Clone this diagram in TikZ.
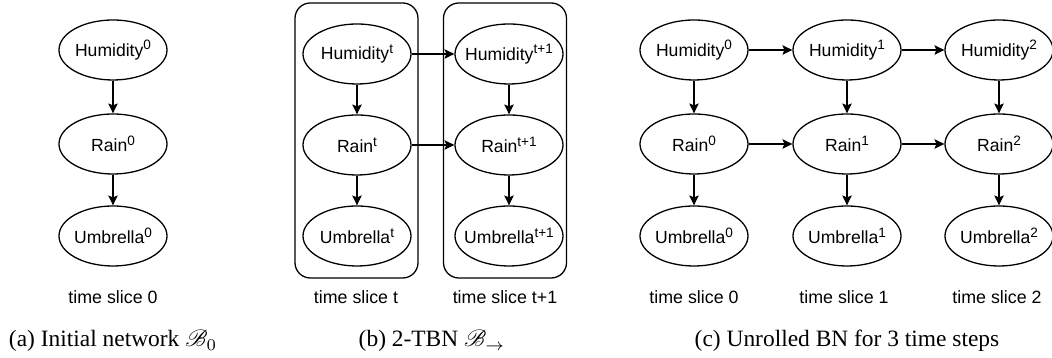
\documentclass[tikz,border=0pt]{standalone}
\usepackage{fontspec}
\setmainfont{Liberation Serif}
\setsansfont{Liberation Sans}
\usepackage{mathrsfs}
\usetikzlibrary{arrows.meta}
\usetikzlibrary{shapes.geometric}

% Superscript for the time index, a little larger than \textsuperscript
\newcommand{\tidx}[1]{\raisebox{2.7pt}{\fontsize{5.8}{6}\selectfont #1}}

\begin{document}
\begin{tikzpicture}[
        x=0.015cm, y=-0.015cm,
        line width=0.55pt,
        % Style for the variable nodes (fixed size ellipses)
        varnode/.style={ellipse, draw, inner xsep=-3pt, inner ysep=0pt, minimum width=1.62cm, minimum height=0.9cm, font=\sffamily\fontsize{7.5}{9}\selectfont},
        % Style for the frames round one time slice
        slicebox/.style={rectangle, rounded corners=2.3mm, draw, minimum width=1.845cm, minimum height=4.125cm},
        % Style for the texts under the columns
        slicelabel/.style={font=\sffamily\fontsize{7.6}{9}\selectfont},
        caption/.style={font=\fontsize{10}{12}\selectfont},
        link/.style={-{Stealth[length=4.2pt, width=4pt, inset=0.8pt]}}
    ]

    \useasboundingbox (0,0) rectangle (1052,358);

    % --- 1. (a) INITIAL NETWORK ---
    \node[varnode] (Ha) at (113, 50) {Humidity\tidx{0}};
    \node[varnode] (Ra) at (113, 144) {Rain\tidx{0}};
    \node[varnode] (Ua) at (113, 236) {Umbrella\tidx{0}};

    \node[slicelabel] (La) at (113, 297) {time slice 0};
    \node[caption] (Ca) at (113, 341) {(a) Initial network $\mathscr{B}_0$};

    % --- 2. (b) 2-TBN ---
    % Frames first, so that the ellipses lie on top
    \node[slicebox] (Sbt) at (356.5, 140.5) {};
    \node[slicebox] (Sbt1) at (505, 140.5) {};

    \node[varnode] (Hbt) at (357, 54) {Humidity\tidx{t}};
    \node[varnode] (Rbt) at (357, 145) {Rain\tidx{t}};
    \node[varnode] (Ubt) at (357, 236) {Umbrella\tidx{t}};

    \node[varnode] (Hbt1) at (509, 54) {Humidity\tidx{t+1}};
    \node[varnode] (Rbt1) at (509, 145) {Rain\tidx{t+1}};
    \node[varnode] (Ubt1) at (509, 236) {Umbrella\tidx{t+1}};

    \node[slicelabel] (Lbt) at (356, 297) {time slice t};
    \node[slicelabel] (Lbt1) at (505, 297) {time slice t+1};
    \node[caption] (Cb) at (432, 341) {(b) 2-TBN $\mathscr{B}_{\rightarrow}$};

    % --- 3. (c) UNROLLED BN ---
    \node[varnode] (Hc0) at (694, 50) {Humidity\tidx{0}};
    \node[varnode] (Rc0) at (694, 144) {Rain\tidx{0}};
    \node[varnode] (Uc0) at (694, 236) {Umbrella\tidx{0}};

    \node[varnode] (Hc1) at (847, 50) {Humidity\tidx{1}};
    \node[varnode] (Rc1) at (847, 144) {Rain\tidx{1}};
    \node[varnode] (Uc1) at (847, 236) {Umbrella\tidx{1}};

    \node[varnode] (Hc2) at (999, 50) {Humidity\tidx{2}};
    \node[varnode] (Rc2) at (999, 144) {Rain\tidx{2}};
    \node[varnode] (Uc2) at (999, 236) {Umbrella\tidx{2}};

    \node[slicelabel] (Lc0) at (694, 297) {time slice 0};
    \node[slicelabel] (Lc1) at (844, 297) {time slice 1};
    \node[slicelabel] (Lc2) at (997, 297) {time slice 2};
    \node[caption] (Cc) at (847, 341) {(c) Unrolled BN for 3 time steps};

    % --- 4. CONNECTIONS ---
    % Inside one slice
    \draw[link] (Ha) -- (Ra);
    \draw[link] (Ra) -- (Ua);
    \draw[link] (Hbt) -- (Rbt);
    \draw[link] (Rbt) -- (Ubt);
    \draw[link] (Hbt1) -- (Rbt1);
    \draw[link] (Rbt1) -- (Ubt1);
    \draw[link] (Hc0) -- (Rc0);
    \draw[link] (Rc0) -- (Uc0);
    \draw[link] (Hc1) -- (Rc1);
    \draw[link] (Rc1) -- (Uc1);
    \draw[link] (Hc2) -- (Rc2);
    \draw[link] (Rc2) -- (Uc2);

    % From one slice to the next
    \draw[link] (Hbt) -- (Hbt1);
    \draw[link] (Rbt) -- (Rbt1);
    \draw[link] (Hc0) -- (Hc1);
    \draw[link] (Hc1) -- (Hc2);
    \draw[link] (Rc0) -- (Rc1);
    \draw[link] (Rc1) -- (Rc2);

\end{tikzpicture}
\end{document}
